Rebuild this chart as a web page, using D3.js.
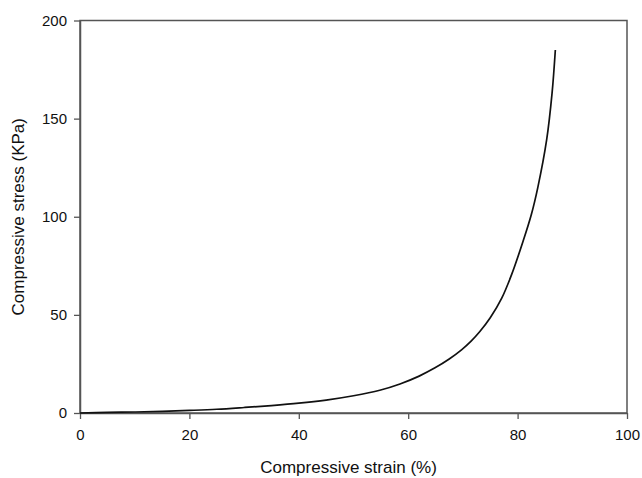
<!DOCTYPE html>
<html>
<head>
<meta charset="utf-8">
<script src="https://cdn.jsdelivr.net/npm/d3@7"></script>
<style>
  body { margin: 0; background: #fff; }
  text { font-family: "Liberation Sans", Arial, sans-serif; fill: #111; }
</style>
</head>
<body>
<svg width="642" height="478"></svg>
<script>
// data
const strain = [0, 5, 10, 15, 20, 25, 30, 35, 40, 45, 50, 54.8, 58.5, 62, 64.9, 67.5, 69.8, 71.5, 73.1, 75, 77.1, 78.9, 81.0, 82.5, 83.7, 85.3, 86.3, 86.9];
const stress = [0, 0.3, 0.5, 0.8, 1.3, 1.9, 2.8, 3.8, 5.0, 6.6, 8.8, 11.6, 14.8, 18.8, 23.0, 27.5, 32.3, 36.6, 41.5, 48.5, 58.5, 70.5, 87.5, 101, 115, 139, 163, 185];
const xTicks = [0, 20, 40, 60, 80, 100];
const yTicks = [0, 50, 100, 150, 200];

const svg = d3.select('svg');
const margin = { t: 20.5, r: 15, b: 65, l: 80 };
const width = 627 - margin.l;
const height = 413 - margin.t;

const g = svg.append('g').attr('transform', `translate(${margin.l},${margin.t})`);

const x = d3.scaleLinear().domain([0, 100]).range([0, width]);
const y = d3.scaleLinear().domain([0, 200]).range([height, 0]);

const data = strain.map((s, i) => ({ s: s, v: stress[i] }));

// frame
g.append('rect')
    .attr('width', width)
    .attr('height', height)
    .attr('fill', 'none')
    .attr('stroke', '#555')
    .attr('stroke-width', 1.5);

const xAxis = g.append('g')
    .attr('transform', `translate(0,${height})`)
    .call(d3.axisBottom(x).tickValues(xTicks).tickSize(6).tickPadding(10).tickSizeOuter(0));
const yAxis = g.append('g')
    .call(d3.axisLeft(y).tickValues(yTicks).tickSize(6).tickPadding(7).tickSizeOuter(0));

[xAxis, yAxis].forEach(a => {
    a.select('.domain').attr('stroke', '#555').attr('stroke-width', 1.5);
    a.selectAll('.tick line').attr('stroke', '#555').attr('stroke-width', 1.3);
    a.selectAll('.tick text')
        .attr('fill', '#111')
        .style('font-size', '15px')
        .style('font-family', '"Liberation Sans", Arial, sans-serif');
});

// curve
const line = d3.line()
    .x(d => x(d.s))
    .y(d => y(d.v))
    .curve(d3.curveCatmullRom.alpha(0.5));
g.append('path')
    .datum(data)
    .attr('d', line)
    .attr('fill', 'none')
    .attr('stroke', '#111')
    .attr('stroke-width', 1.7);

// axis labels
svg.append('text')
    .attr('x', margin.l + width / 2 - 5)
    .attr('y', 473)
    .attr('text-anchor', 'middle')
    .style('font-size', '17px')
    .text('Compressive strain (%)');

svg.append('text')
    .attr('transform', `translate(24,${margin.t + height / 2}) rotate(-90)`)
    .attr('text-anchor', 'middle')
    .style('font-size', '17px')
    .text('Compressive stress (KPa)');
</script>
</body>
</html>
